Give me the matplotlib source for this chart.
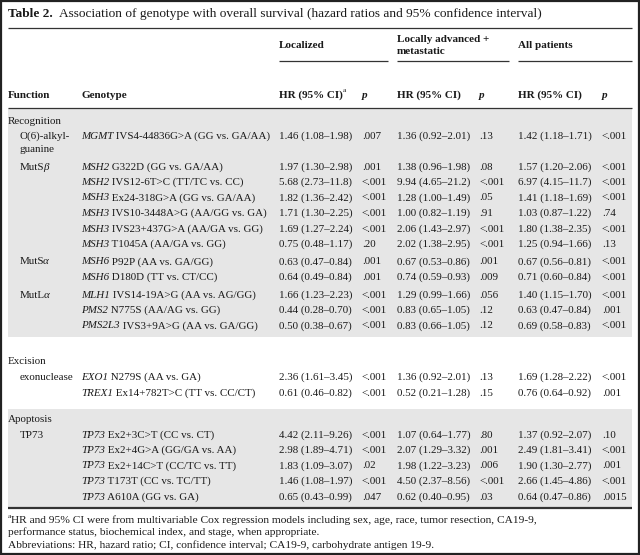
import matplotlib
matplotlib.use("Agg")
import matplotlib.pyplot as plt
from matplotlib.patches import Rectangle

plt.rcParams['font.family'] = ['Liberation Serif', 'DejaVu Serif']

# ---- table data ----
sections = ["Recognition", "Excision", "Apoptosis"]
section_start = [0, 12, 14]

# function label for the first row of each group (runs of (text, style))
func_labels = {
    0: [[("O(6)-alkyl-", "")], [("guanine", "")]],
    1: [[("MutS", ""), ("\u03b2", "ik")]],
    7: [[("MutS", ""), ("\u03b1", "ik")]],
    9: [[("MutL", ""), ("\u03b1", "ik")]],
    12: [[("exonuclease", "")]],
    14: [[("TP73", "")]],
}

genes = ["MGMT", "MSH2", "MSH2", "MSH3", "MSH3", "MSH3", "MSH3", "MSH6", "MSH6",
         "MLH1", "PMS2", "PMS2L3", "EXO1", "TREX1",
         "TP73", "TP73", "TP73", "TP73", "TP73"]
variants = ["IVS4-44836G>A (GG vs. GA/AA)", "G322D (GG vs. GA/AA)",
            "IVS12-6T>C (TT/TC vs. CC)", "Ex24-318G>A (GG vs. GA/AA)",
            "IVS10-3448A>G (AA/GG vs. GA)", "IVS23+437G>A (AA/GA vs. GG)",
            "T1045A (AA/GA vs. GG)", "P92P (AA vs. GA/GG)", "D180D (TT vs. CT/CC)",
            "IVS14-19A>G (AA vs. AG/GG)", "N775S (AA/AG vs. GG)",
            "IVS3+9A>G (AA vs. GA/GG)", "N279S (AA vs. GA)",
            "Ex14+782T>C (TT vs. CC/CT)", "Ex2+3C>T (CC vs. CT)",
            "Ex2+4G>A (GG/GA vs. AA)", "Ex2+14C>T (CC/TC vs. TT)",
            "T173T (CC vs. TC/TT)", "A610A (GG vs. GA)"]

hr_loc = ["1.46 (1.08\u20131.98)", "1.97 (1.30\u20132.98)", "5.68 (2.73\u201311.8)",
          "1.82 (1.36\u20132.42)", "1.71 (1.30\u20132.25)", "1.69 (1.27\u20132.24)",
          "0.75 (0.48\u20131.17)", "0.63 (0.47\u20130.84)", "0.64 (0.49\u20130.84)",
          "1.66 (1.23\u20132.23)", "0.44 (0.28\u20130.70)", "0.50 (0.38\u20130.67)",
          "2.36 (1.61\u20133.45)", "0.61 (0.46\u20130.82)", "4.42 (2.11\u20139.26)",
          "2.98 (1.89\u20134.71)", "1.83 (1.09\u20133.07)", "1.46 (1.08\u20131.97)",
          "0.65 (0.43\u20130.99)"]
p_loc = [".007", ".001", "<.001", "<.001", "<.001", "<.001", ".20", ".001", ".001",
         "<.001", "<.001", "<.001", "<.001", "<.001", "<.001", "<.001", ".02",
         "<.001", ".047"]

hr_adv = ["1.36 (0.92\u20132.01)", "1.38 (0.96\u20131.98)", "9.94 (4.65\u201321.2)",
          "1.28 (1.00\u20131.49)", "1.00 (0.82\u20131.19)", "2.06 (1.43\u20132.97)",
          "2.02 (1.38\u20132.95)", "0.67 (0.53\u20130.86)", "0.74 (0.59\u20130.93)",
          "1.29 (0.99\u20131.66)", "0.83 (0.65\u20131.05)", "0.83 (0.66\u20131.05)",
          "1.36 (0.92\u20132.01)", "0.52 (0.21\u20131.28)", "1.07 (0.64\u20131.77)",
          "2.07 (1.29\u20133.32)", "1.98 (1.22\u20133.23)", "4.50 (2.37\u20138.56)",
          "0.62 (0.40\u20130.95)"]
p_adv = [".13", ".08", "<.001", ".05", ".91", "<.001", "<.001", ".001", ".009",
         ".056", ".12", ".12", ".13", ".15", ".80", ".001", ".006", "<.001", ".03"]

hr_all = ["1.42 (1.18\u20131.71)", "1.57 (1.20\u20132.06)", "6.97 (4.15\u201311.7)",
          "1.41 (1.18\u20131.69)", "1.03 (0.87\u20131.22)", "1.80 (1.38\u20132.35)",
          "1.25 (0.94\u20131.66)", "0.67 (0.56\u20130.81)", "0.71 (0.60\u20130.84)",
          "1.40 (1.15\u20131.70)", "0.63 (0.47\u20130.84)", "0.69 (0.58\u20130.83)",
          "1.69 (1.28\u20132.22)", "0.76 (0.64\u20130.92)", "1.37 (0.92\u20132.07)",
          "2.49 (1.81\u20133.41)", "1.90 (1.30\u20132.77)", "2.66 (1.45\u20134.86)",
          "0.64 (0.47\u20130.86)"]
p_all = ["<.001", "<.001", "<.001", "<.001", ".74", "<.001", ".13", "<.001", "<.001",
         "<.001", ".001", "<.001", "<.001", ".001", ".10", "<.001", ".001", "<.001",
         ".0015"]

footnotes = [
    [("a", "s"), ("HR and 95% CI were from multivariable Cox regression models including sex, age, race, tumor resection, CA19-9,", "")],
    [("performance status, biochemical index, and stage, when appropriate.", "")],
    [("Abbreviations: HR, hazard ratio; CI, confidence interval; CA19-9, carbohydrate antigen 19-9.", "")],
]

# ---- layout (pixels) ----
W, H = 640, 555
L, R = 8, 632
x_func, x_sub, x_gen = 8, 20, 81
x_cols = [279, 362, 397, 479, 518, 602]
FS = 7.9        # body text (pt)
FS_HEAD = 8.0
FS_TITLE = 9.6
FS_FOOT = 8.2
INK = "#1a1a1a"
GRAY = "#e6e6e6"

fig = plt.figure(figsize=(W / 100, H / 100), dpi=100)
ax = fig.add_axes([0, 0, 1, 1])
ax.set_xlim(0, W)
ax.set_ylim(H, 0)
ax.axis("off")
fig.canvas.draw()
renderer = fig.canvas.get_renderer()


def rich(x, y, parts, size=FS):
    # lay out runs of text side by side; styles: b bold, i italic, s superscript, k tight
    for s, st in parts:
        sz = size * 0.65 if "s" in st else size
        dy = -4 if "s" in st else 0
        if "k" in st:
            x -= 1.5
        t = ax.text(x, y + dy, s, fontsize=sz, color=INK, va="center", ha="left",
                    fontweight="bold" if "b" in st else "normal",
                    fontstyle="italic" if "i" in st else "normal")
        x += t.get_window_extent(renderer).width
    return x


def hline(y, x0=L, x1=R, lw=0.9):
    ax.plot([x0, x1], [y, y], color="#333333", lw=lw, solid_capstyle="butt")


# title
rich(L, 14, [("Table 2.", "b"), ("  Association of genotype with overall survival (hazard ratios and 95% confidence interval)", "")],
     size=FS_TITLE)
hline(28)

# column group headers
rich(x_cols[0], 46, [("Localized", "b")], FS_HEAD)
rich(x_cols[2], 39, [("Locally advanced +", "b")], FS_HEAD)
rich(x_cols[2], 52, [("metastatic", "b")], FS_HEAD)
rich(x_cols[4], 46, [("All patients", "b")], FS_HEAD)
hline(61, x_cols[0], x_cols[2] - 9)
hline(61, x_cols[2], x_cols[4] - 9)
hline(61, x_cols[4], R)

y_head = 95
rich(x_func, y_head, [("Function", "b")], FS_HEAD)
rich(x_gen, y_head, [("Genotype", "b")], FS_HEAD)
rich(x_cols[0], y_head, [("HR (95% CI)", "b"), ("a", "s")], FS_HEAD)
rich(x_cols[2], y_head, [("HR (95% CI)", "b")], FS_HEAD)
rich(x_cols[4], y_head, [("HR (95% CI)", "b")], FS_HEAD)
for xc in x_cols[1::2]:
    rich(xc, y_head, [("p", "bi")], FS_HEAD)
y_rule = 107.5
hline(y_rule)

# body rows
step, group_gap, sub_line = 15.5, 2, 13
gap_before = [0, 25, 16]
pad_top = [13.5, 0, 10.5]
pad_bottom = [11, 0, 11]
shaded = [True, False, True]
sec_end = section_start[1:] + [len(genes)]

prev_end = y_rule
for si, sec in enumerate(sections):
    top = prev_end + gap_before[si]
    y_sec = top + pad_top[si]
    y_row = y_sec
    rows_y = []
    for r in range(section_start[si], sec_end[si]):
        if r in func_labels and r != section_start[si]:
            y_row += group_gap
        y_row += step
        rows_y.append(y_row)
        if r in func_labels:
            y_row += sub_line * (len(func_labels[r]) - 1)
    bottom = rows_y[-1] + pad_bottom[si]
    if shaded[si]:
        ax.add_patch(Rectangle((L, top), R - L, bottom - top, color=GRAY, zorder=0, lw=0))
    rich(x_func, y_sec, [(sec, "")])
    for r, yr in zip(range(section_start[si], sec_end[si]), rows_y):
        if r in func_labels:
            for k, line in enumerate(func_labels[r]):
                rich(x_sub, yr + k * sub_line, line)
        rich(x_gen, yr, [(genes[r], "i"), (" " + variants[r], "")])
        vals = [hr_loc[r], p_loc[r], hr_adv[r], p_adv[r], hr_all[r], p_all[r]]
        for xc, v in zip(x_cols, vals):
            rich(xc, yr, [(v, "")])
    prev_end = bottom

hline(prev_end, lw=1.6)

# footnotes
for k, line in enumerate(footnotes):
    rich(L, prev_end + 12 + 12.5 * k, line, FS_FOOT)

# outer frame
ax.add_patch(Rectangle((1, 1), W - 2, H - 2, fill=False, ec="#222222", lw=1.6))

fig.savefig("out.png", dpi=100)
